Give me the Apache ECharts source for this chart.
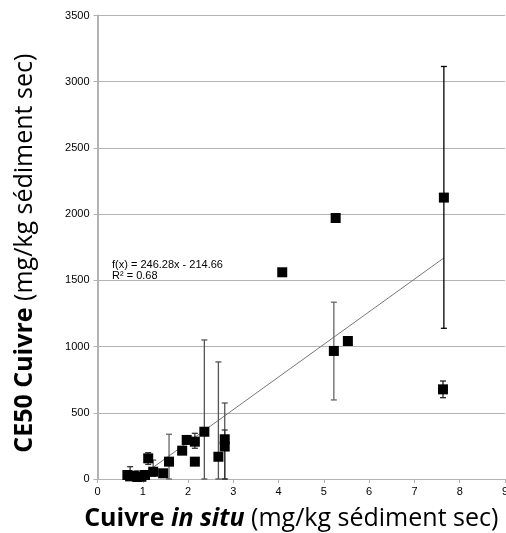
<!DOCTYPE html>
<html>
<head>
<meta charset="utf-8">
<script src="https://cdn.jsdelivr.net/npm/echarts@6/dist/echarts.min.js"></script>
<style>html,body{margin:0;padding:0;background:#fff}#c{width:506px;height:533px}</style>
</head>
<body>
<div id="c"></div>
<script>
// Data
var xVals = [0.66, 0.72, 0.80, 0.88, 0.97, 1.05, 1.12, 1.23, 1.45, 1.58, 1.87, 1.97, 2.15, 2.15, 2.36, 2.67, 2.81, 2.81, 4.08, 5.22, 5.26, 5.53, 7.63, 7.65];
var yVals = [30, 20, 25, 15, 17, 30, 156, 55, 43, 131, 214, 295, 282, 131, 357, 168, 300, 245, 1561, 967, 1971, 1042, 677, 2125];
var errLow = [null, 0, null, 0, null, null, 110, 20, null, 0, null, null, 232, null, 0, 0, 0, 0, null, 597, null, null, 614, 1138];
var errHigh = [null, 93, null, 60, null, null, 199, 143, null, 338, null, null, 345, null, 1050, 884, 574, 370, null, 1335, null, null, 740, 3115];
var errColor = ['#000', '#333', '#000', '#333', '#000', '#000', '#333', '#555', '#000', '#666', '#000', '#000', '#333', '#000', '#555', '#555', '#555', '#333', '#000', '#666', '#000', '#000', '#222', '#000'];
var trendSlope = 246.28, trendIntercept = -214.66;
var trendX = [0.8716, 7.65];

var points = xVals.map(function (x, i) { return [x, yVals[i]]; });
var bars = [];
xVals.forEach(function (x, i) {
  if (errLow[i] !== null) bars.push([x, errLow[i], errHigh[i], errColor[i]]);
});
var trend = trendX.map(function (x) { return [x, trendSlope * x + trendIntercept]; });

var chart = echarts.init(document.getElementById('c'), null, {renderer: 'canvas'});
var gridColor = '#b3b3b3';
var titleFont = 'Open Sans';
var titleSize = 25;
chart.setOption({
  animation: false,
  grid: {left: 97.5, right: 1, top: 15.5, bottom: 54, containLabel: false, outerBoundsMode: 'none'},
  xAxis: {
    type: 'value', min: 0, max: 9, interval: 1,
    axisLine: {show: true, lineStyle: {color: gridColor, width: 1}},
    axisTick: {show: true, length: 4, lineStyle: {color: gridColor}},
    splitLine: {show: false},
    axisLabel: {color: '#000', fontFamily: 'Liberation Sans', fontSize: 11, margin: 7, showMaxLabel: true},
    name: '{b|Cuivre }{bi|in situ}{n| (mg/kg sédiment sec)}',
    nameLocation: 'middle', nameGap: 27,
    nameTextStyle: {
      padding: [0, 20, 0, 0],
      rich: {
        b: {fontFamily: titleFont, fontWeight: 'bold', fontSize: titleSize, color: '#000'},
        bi: {fontFamily: titleFont, fontWeight: 'bold', fontStyle: 'italic', fontSize: titleSize, color: '#000'},
        n: {fontFamily: titleFont, fontSize: titleSize, color: '#000'}
      }
    }
  },
  yAxis: {
    type: 'value', min: 0, max: 3500, interval: 500,
    axisLine: {show: true, lineStyle: {color: gridColor, width: 2}},
    axisTick: {show: true, length: 4, lineStyle: {color: gridColor}},
    splitLine: {show: true, lineStyle: {color: gridColor, width: 1}},
    axisLabel: {color: '#000', fontFamily: 'Liberation Sans', fontSize: 11, margin: 8, formatter: function (v) { return String(v); }},
    name: '{b|CE50 Cuivre }{n|(mg/kg sédiment sec)}',
    nameLocation: 'middle', nameGap: 60, nameRotate: 90,
    nameTextStyle: {
      padding: [0, 12, 0, 0],
      rich: {
        b: {fontFamily: titleFont, fontWeight: 'bold', fontSize: titleSize, color: '#000'},
        n: {fontFamily: titleFont, fontSize: titleSize, color: '#000'}
      }
    }
  },
  series: [
    {
      type: 'line', data: trend, symbol: 'none', silent: true,
      lineStyle: {color: '#777', width: 1}, z: 2
    },
    {
      type: 'custom', z: 3,
      data: bars,
      renderItem: function (params, api) {
        var x = api.value(0);
        var lo = api.coord([x, api.value(1)]);
        var hi = api.coord([x, api.value(2)]);
        var c = bars[params.dataIndex][3];
        var w = 3;
        var st = {stroke: c, lineWidth: 1.3};
        return {
          type: 'group',
          children: [
            {type: 'line', shape: {x1: lo[0], y1: lo[1], x2: hi[0], y2: hi[1]}, style: st},
            {type: 'line', shape: {x1: hi[0] - w, y1: hi[1], x2: hi[0] + w, y2: hi[1]}, style: st},
            {type: 'line', shape: {x1: lo[0] - w, y1: lo[1], x2: lo[0] + w, y2: lo[1]}, style: st}
          ]
        };
      },
      encode: {x: 0, y: [1, 2]}
    },
    {
      type: 'scatter', data: points, symbol: 'rect', symbolSize: 10,
      itemStyle: {color: '#000', opacity: 1}, z: 4
    }
  ],
  graphic: [
    {type: 'text', left: 112, top: 259, style: {text: 'f(x) = 246.28x - 214.66\nR² = 0.68', font: '11px "Liberation Sans"', fill: '#000', lineHeight: 11}}
  ]
});
</script>
</body>
</html>
